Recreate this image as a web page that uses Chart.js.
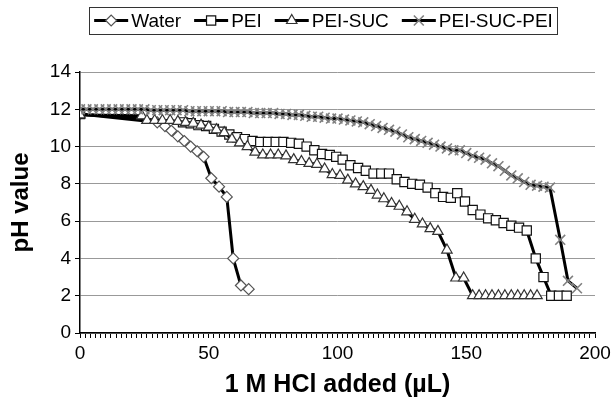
<!DOCTYPE html>
<html>
<head>
<meta charset="utf-8">
<script src="https://cdn.jsdelivr.net/npm/chart.js@4"></script>
<style>
  html, body { margin: 0; padding: 0; background: #fff; }
</style>
</head>
<body>
<canvas id="myChart" width="615" height="405"></canvas>
<script>
// series names (legend order)
const seriesNames = ['Water', 'PEI', 'PEI-SUC', 'PEI-SUC-PEI'];

// Water
const waterX = [0, 30, 33, 35.5, 38, 40.5, 43, 45.5, 48, 51, 54, 57, 59.5, 62.5, 65.5];
const waterY = [11.75, 11.3, 11.1, 10.85, 10.55, 10.3, 10.0, 9.75, 9.45, 8.3, 7.85, 7.3, 4.0, 2.55, 2.35];

// PEI
const peiX = [0, 40, 43, 46, 49, 52, 55, 58, 61, 64, 67, 70, 73, 76, 79, 82, 85, 88, 91, 94, 97, 99.5, 102, 105, 108, 111, 114, 117, 120, 123, 126, 129, 132, 135, 138, 141, 144, 146.5, 149.5, 152.5, 155.5, 158.5, 161.5, 164.5, 167.5, 170.5, 173.5, 177, 180, 183, 186, 189];
const peiY = [11.75, 11.3, 11.25, 11.15, 11.1, 10.95, 10.8, 10.65, 10.5, 10.4, 10.3, 10.25, 10.25, 10.25, 10.25, 10.2, 10.15, 10.0, 9.8, 9.6, 9.55, 9.45, 9.3, 9.0, 8.85, 8.7, 8.55, 8.55, 8.55, 8.25, 8.1, 8.0, 7.95, 7.8, 7.5, 7.3, 7.25, 7.5, 7.05, 6.6, 6.35, 6.15, 6.05, 5.9, 5.75, 5.65, 5.5, 4.0, 3.0, 2.0, 2.0, 2.0];

// PEI-SUC
const sucX = [0, 24, 26, 29, 32, 35, 38, 41, 44, 47, 50, 53, 56, 59, 62, 65, 68, 71, 74, 77, 80, 83, 86, 89, 92, 95, 98, 101, 104, 107, 110, 113, 115.5, 118, 121, 124, 127, 130, 133, 136, 139, 142.5, 146, 149, 152.5, 155, 157.5, 160, 162.5, 165, 167.5, 170, 172.5, 175, 177.5];
const sucY = [11.7, 11.65, 11.4, 11.4, 11.4, 11.4, 11.35, 11.3, 11.25, 11.15, 11.05, 10.9, 10.75, 10.4, 10.2, 10.0, 9.7, 9.55, 9.55, 9.55, 9.5, 9.3, 9.2, 9.1, 9.05, 8.8, 8.5, 8.45, 8.2, 8.0, 7.85, 7.65, 7.4, 7.2, 6.95, 6.8, 6.5, 6.1, 5.85, 5.6, 5.45, 4.45, 2.95, 2.95, 2.0, 2.0, 2.0, 2.0, 2.0, 2.0, 2.0, 2.0, 2.0, 2.0, 2.0];

// PEI-SUC-PEI
const sucPeiX = [0, 2.5, 5, 7.5, 10, 12.5, 15, 17.5, 20, 22.5, 25, 27.5, 30, 32.5, 35, 37.5, 40, 42.5, 45, 47.5, 50, 52.5, 55, 57.5, 60, 62.5, 65, 67.5, 70, 72.5, 75, 77.5, 80, 82.5, 85, 87.5, 90, 92.5, 95, 97.5, 100, 102.5, 105, 107.5, 110, 112.5, 115, 117.5, 120, 122.5, 125, 127.5, 130, 132.5, 135, 137.5, 140, 142.5, 145, 147.5, 150, 152.5, 155, 157.5, 160, 162.5, 165, 167.5, 170, 172.5, 175, 177.5, 180, 182.5, 186.5, 189.5, 193];
const sucPeiY = [12.0, 12.0, 12.0, 12.0, 12.0, 12.0, 12.0, 12.0, 12.0, 12.0, 12.0, 11.95, 11.95, 11.95, 11.95, 11.95, 11.95, 11.9, 11.9, 11.9, 11.9, 11.9, 11.9, 11.85, 11.85, 11.85, 11.85, 11.8, 11.8, 11.8, 11.8, 11.75, 11.75, 11.7, 11.7, 11.65, 11.6, 11.6, 11.55, 11.5, 11.5, 11.45, 11.4, 11.35, 11.3, 11.2, 11.1, 11.0, 10.9, 10.8, 10.65, 10.5, 10.4, 10.3, 10.2, 10.1, 10.0, 9.9, 9.8, 9.8, 9.65, 9.5, 9.4, 9.3, 9.1, 8.95, 8.7, 8.45, 8.3, 8.1, 7.95, 7.9, 7.85, 7.8, 5.0, 2.8, 2.4];

// axis ranges / ticks
const xMin = 0, xMax = 200, xStep = 2, xLabelEvery = 50;
const yMin = 0, yMax = 14, yStep = 2;

const FONT = '"Liberation Sans", Arial, sans-serif';

function pts(xs, ys) {
    return xs.map((x, i) => ({ x: x, y: ys[i] }));
}

const styles = [
    { pointStyle: 'rectRot', radius: 5.5, border: '#555', fill: '#fff', bw: 1.2 },
    { pointStyle: 'rect', radius: 6.5, border: '#111', fill: '#fff', bw: 1.2 },
    { pointStyle: 'triangle', radius: 6, border: '#333', fill: '#fff', bw: 1.2 },
    { pointStyle: 'crossRot', radius: 7, border: '#808080', fill: '#808080', bw: 1.6 }
];

const allX = [waterX, peiX, sucX, sucPeiX];
const allY = [waterY, peiY, sucY, sucPeiY];

const datasets = seriesNames.map((name, i) => ({
    label: name,
    data: pts(allX[i], allY[i]),
    showLine: true,
    borderColor: '#000',
    borderWidth: 3,
    pointStyle: styles[i].pointStyle,
    pointRadius: styles[i].radius,
    pointBackgroundColor: styles[i].fill,
    pointBorderColor: styles[i].border,
    pointBorderWidth: styles[i].bw,
    order: seriesNames.length - i
}));

// legend with line + marker in a box
const legendBox = {
    id: 'legendBox',
    afterDraw(chart) {
        const ctx = chart.ctx;
        const symW = 34, gap = 3, itemGap = 13;
        const cy = 20.5;
        ctx.save();
        ctx.font = '19px ' + FONT;
        const widths = seriesNames.map(n => ctx.measureText(n).width);
        let total = widths.reduce((a, w) => a + symW + gap + w, 0) + itemGap * (seriesNames.length - 1);
        const center = 323.5;
        let x = center - total / 2;
        ctx.strokeStyle = '#333';
        ctx.lineWidth = 1;
        ctx.strokeRect(Math.round(x - 5) + 0.5, 7.5, Math.round(total + 9), 27);
        seriesNames.forEach((name, i) => {
            ctx.strokeStyle = '#000';
            ctx.lineWidth = 3;
            ctx.beginPath();
            ctx.moveTo(x, cy);
            ctx.lineTo(x + symW, cy);
            ctx.stroke();
            ctx.fillStyle = styles[i].fill;
            ctx.strokeStyle = styles[i].border;
            ctx.lineWidth = styles[i].bw;
            Chart.helpers.drawPoint(ctx, { pointStyle: styles[i].pointStyle, radius: styles[i].radius, rotation: 0, borderWidth: styles[i].bw }, x + symW / 2, cy);
            ctx.fillStyle = '#000';
            ctx.textBaseline = 'middle';
            ctx.textAlign = 'left';
            ctx.fillText(name, x + symW + gap, cy + 1);
            x += symW + gap + widths[i] + itemGap;
        });
        ctx.restore();
    }
};

new Chart(document.getElementById('myChart').getContext('2d'), {
    type: 'scatter',
    data: { datasets: datasets },
    options: {
        responsive: false,
        animation: false,
        layout: { padding: { top: 72, right: 20, left: 0, bottom: 0 } },
        plugins: {
            legend: { display: false },
            tooltip: { enabled: false }
        },
        scales: {
            x: {
                type: 'linear',
                min: xMin,
                max: xMax,
                afterFit: s => { s.height = 72; },
                ticks: {
                    stepSize: xStep,
                    autoSkip: false,
                    maxRotation: 0,
                    padding: 4,
                    color: '#000',
                    font: { family: FONT, size: 19 },
                    callback: v => (v % xLabelEvery === 0 ? v : '')
                },
                grid: { drawOnChartArea: false, drawTicks: true, tickLength: 5, tickColor: '#000' },
                border: { color: '#000', width: 1.5 },
                title: {
                    display: true,
                    text: '1 M HCl added (µL)',
                    color: '#000',
                    font: { family: FONT, size: 25, weight: 'bold' },
                    padding: { top: 0, bottom: 5 }
                }
            },
            y: {
                min: yMin,
                max: yMax,
                afterFit: s => { s.width = 80; },
                ticks: {
                    stepSize: yStep,
                    padding: 4,
                    color: '#000',
                    font: { family: FONT, size: 19 }
                },
                grid: { color: '#999', lineWidth: 1, tickLength: 5, tickColor: '#000' },
                border: { color: '#000', width: 1.5 },
                title: {
                    display: true,
                    text: 'pH value',
                    color: '#000',
                    font: { family: FONT, size: 24, weight: 'bold' },
                    padding: { top: 7, bottom: 0 }
                }
            }
        }
    },
    plugins: [legendBox]
});
</script>
</body>
</html>
